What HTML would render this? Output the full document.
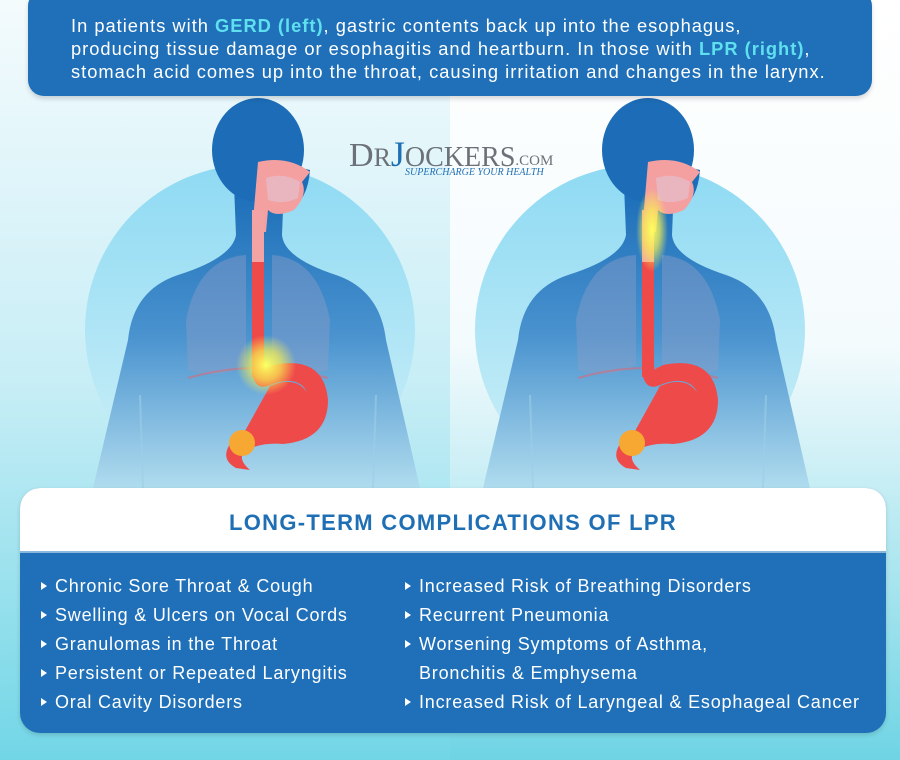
<!DOCTYPE html>
<html><head><meta charset="utf-8"><style>
body{margin:0;width:900px;height:760px;overflow:hidden;font-family:"Liberation Sans",sans-serif;position:relative;background:#fff}
.bg{position:absolute;inset:0}
.top{position:absolute;left:28px;top:-10px;width:844px;height:106px;background:#1f70b9;border-radius:16px;box-shadow:0 3px 5px rgba(0,0,0,.15)}
.top p{margin:0;position:absolute;left:43px;top:24px;color:#fff;font-size:18.3px;line-height:23px;letter-spacing:1px;white-space:nowrap}
.top b{color:#5fe0ef}
.box{position:absolute;left:20px;top:488px;width:866px;height:245px;border-radius:20px;overflow:hidden;background:#1f70b9;box-shadow:0 2px 5px rgba(0,0,0,.15)}
.hd{height:63px;background:#fff;text-align:center;line-height:70px;color:#1f6fb4;font-weight:bold;font-size:22px;letter-spacing:1.3px;border-bottom:2px solid #8ab8dc}
.col{position:absolute;top:84px;color:#fff;font-size:18px;line-height:29px;letter-spacing:.8px;white-space:nowrap}
.col div{position:relative;padding-left:15px}
.col div.t:before{content:"";position:absolute;left:1px;top:10px;border-left:6px solid #fff;border-top:4px solid transparent;border-bottom:4px solid transparent}
</style></head><body>
<svg class="bg" width="900" height="760" viewBox="0 0 900 760">
<defs>
<linearGradient id="bl" x1="0" y1="0" x2="0" y2="1"><stop offset="0" stop-color="#f4fbfd"/><stop offset=".5" stop-color="#c8eef6"/><stop offset="1" stop-color="#72d6e6"/></linearGradient>
<linearGradient id="br" x1="0" y1="0" x2="0" y2="1"><stop offset="0" stop-color="#ffffff"/><stop offset=".45" stop-color="#f4fbfd"/><stop offset="1" stop-color="#6fd4e4"/></linearGradient>
<linearGradient id="gl" x1="0" y1="0" x2="0" y2="1"><stop offset="0" stop-color="#8edaf3"/><stop offset="1" stop-color="#d0f0f8"/></linearGradient>
<linearGradient id="bd" x1="0" y1="0" x2="0" y2="1"><stop offset="0" stop-color="#1b6db8"/><stop offset=".5" stop-color="#4a93cf"/><stop offset="1" stop-color="#b0dcee"/></linearGradient>
<radialGradient id="yl"><stop offset="0" stop-color="#ffff60"/><stop offset=".5" stop-color="#f8f050" stop-opacity=".7"/><stop offset="1" stop-color="#f8f050" stop-opacity="0"/></radialGradient>
<g id="fig">
<circle cx="-8" cy="330" r="165" fill="url(#gl)"/>
<path d="M-24 185 L-22 235 Q-26 258 -80 275 Q-125 290 -130 340 L-165 488 L162 488 L128 340 Q122 290 78 275 Q26 258 24 235 L26 185 Z" fill="url(#bd)"/>
<path d="M-118 395 L-115 488 M118 395 L115 488" stroke="#9ccfe6" stroke-width="2" opacity=".6"/>
<ellipse cx="0" cy="150" rx="46" ry="52" fill="#1c6cb7"/>
<path d="M10 160 L52 170 Q50 200 30 212 L0 212 Z" fill="#1c6cb7"/>
<path d="M0 162 Q30 155 52 172 L44 182 Q50 195 36 210 Q18 218 10 210 L8 232 L-6 232 Z" fill="#f4a0a0"/>
<path d="M8 178 Q26 172 42 182 L40 198 Q25 205 10 200 Z" fill="#e9b6c0"/>
<g opacity=".45" fill="#8a9ec8"><path d="M-12 255 Q-60 258 -72 320 L-70 370 Q-40 380 -12 365 Z"/><path d="M14 255 Q60 258 72 320 L70 370 Q40 380 14 365 Z"/></g>
<path d="M-70 378 Q0 358 70 378" stroke="#d96a7a" stroke-width="2" fill="none" opacity=".6"/>
<rect x="-6" y="210" width="12" height="55" fill="#f3a3a3"/>
<rect x="-6" y="262" width="12" height="115" fill="#ef4a4a"/>
<path d="M-6 370 Q-4 392 12 385 Q45 372 52 400 Q55 425 25 430 Q-10 430 -25 440 Q-40 458 -22 468 L-8 470 Q-22 458 -12 450 Q5 442 25 444 Q70 440 70 400 Q66 355 15 365 L6 370 Z" fill="#ef4a4a"/>
<path d="M12 386 Q45 372 55 405 Q55 430 30 433 Q-5 428 -18 440 L12 386Z" fill="#ef4a4a"/>
<circle cx="-16" cy="443" r="13" fill="#f7a833"/>
</g>
</defs>
<rect x="0" y="0" width="450" height="760" fill="url(#bl)"/>
<rect x="450" y="0" width="450" height="760" fill="url(#br)"/>
<use href="#fig" transform="translate(258,0)"/>
<use href="#fig" transform="translate(648,0)"/>
<circle cx="266" cy="365" r="30" fill="url(#yl)"/>
<ellipse cx="652" cy="230" rx="16" ry="42" fill="url(#yl)"/>
<text x="349" y="166" font-family="Liberation Serif,serif" font-size="34" fill="#6b7177">D<tspan font-size="26">R</tspan><tspan fill="#1f6fb4" font-size="36">J</tspan><tspan font-size="28">OCKERS</tspan><tspan font-size="15" dy="-1">.COM</tspan></text>
<text x="405" y="175" font-family="Liberation Serif,serif" font-style="italic" font-size="10" fill="#1f6fb4">SUPERCHARGE YOUR HEALTH</text>
</svg>
<div class="top"><p>In patients with <b>GERD (left)</b>, gastric contents back up into the esophagus,<br>producing tissue damage or esophagitis and heartburn. In those with <b>LPR (right)</b>,<br>stomach acid comes up into the throat, causing irritation and changes in the larynx.</p></div>
<div class="box"><div class="hd">LONG-TERM COMPLICATIONS OF LPR</div>
<div class="col" style="left:20px"><div class="t">Chronic Sore Throat &amp; Cough</div><div class="t">Swelling &amp; Ulcers on Vocal Cords</div><div class="t">Granulomas in the Throat</div><div class="t">Persistent or Repeated Laryngitis</div><div class="t">Oral Cavity Disorders</div></div>
<div class="col" style="left:384px"><div class="t">Increased Risk of Breathing Disorders</div><div class="t">Recurrent Pneumonia</div><div class="t">Worsening Symptoms of Asthma,</div><div>Bronchitis &amp; Emphysema</div><div class="t">Increased Risk of Laryngeal &amp; Esophageal Cancer</div></div>
</div>
</body></html>
